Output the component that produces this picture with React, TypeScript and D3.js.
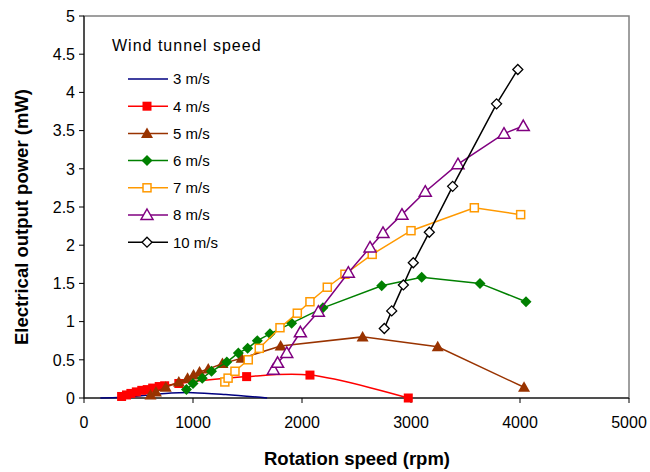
import React from "react";
import * as d3 from "d3";

const rpm3 = [150, 350, 600, 800, 1000, 1300, 1680];
const mw3 = [0, 0.01, 0.04, 0.065, 0.07, 0.045, 0];

const rpm4 = [345, 390, 430, 480, 530, 580, 630, 690, 740, 870, 1492, 2073, 2975];
const mw4 = [0.02, 0.04, 0.06, 0.08, 0.1, 0.11, 0.13, 0.15, 0.16, 0.19, 0.28, 0.3, 0.0];

const rpm5 = [610, 660, 750, 870, 950, 1005, 1060, 1140, 1270, 1446, 1804, 2556, 3245, 4037];
const mw5 = [0.04, 0.08, 0.14, 0.21, 0.26, 0.3, 0.34, 0.38, 0.45, 0.52, 0.68, 0.8, 0.67, 0.14];

const rpm6 = [940, 1000, 1085, 1170, 1310, 1416, 1501, 1590, 1706, 1905, 2192, 2731, 3098, 3633, 4055];
const mw6 = [0.11, 0.19, 0.26, 0.35, 0.47, 0.59, 0.65, 0.75, 0.84, 0.98, 1.18, 1.47, 1.58, 1.5, 1.26];

const rpm7 = [1292, 1322, 1385, 1507, 1608, 1798, 1957, 2073, 2232, 2394, 2644, 3000, 3581, 4006];
const mw7 = [0.21, 0.26, 0.35, 0.5, 0.65, 0.92, 1.11, 1.26, 1.45, 1.62, 1.88, 2.19, 2.49, 2.4];

const rpm8 = [1737, 1776, 1860, 1985, 2150, 2425, 2624, 2743, 2917, 3131, 3431, 3853, 4030];
const mw8 = [0.37, 0.46, 0.59, 0.86, 1.13, 1.64, 1.97, 2.16, 2.4, 2.7, 3.06, 3.46, 3.56];

const rpm10 = [2755, 2823, 2930, 3021, 3168, 3382, 3785, 3980];
const mw10 = [0.91, 1.14, 1.48, 1.77, 2.17, 2.77, 3.85, 4.3];

const seriesNames = ["3 m/s", "4 m/s", "5 m/s", "6 m/s", "7 m/s", "8 m/s", "10 m/s"];
const xTicks = [0, 1000, 2000, 3000, 4000, 5000];
const yTicks = [0, 0.5, 1, 1.5, 2, 2.5, 3, 3.5, 4, 4.5, 5];
const yTickLabels = ["0", "0.5", "1", "1.5", "2", "2.5", "3", "3.5", "4", "4.5", "5"];

type Marker = "none" | "squareF" | "triF" | "diaF" | "squareO" | "triO" | "diaO";

const series = [
  { name: seriesNames[0], x: rpm3, y: mw3, color: "#000080", marker: "none" as Marker, smooth: true },
  { name: seriesNames[1], x: rpm4, y: mw4, color: "#FF0000", marker: "squareF" as Marker, smooth: true },
  { name: seriesNames[2], x: rpm5, y: mw5, color: "#993300", marker: "triF" as Marker, smooth: false },
  { name: seriesNames[3], x: rpm6, y: mw6, color: "#008000", marker: "diaF" as Marker, smooth: false },
  { name: seriesNames[4], x: rpm7, y: mw7, color: "#FF9900", marker: "squareO" as Marker, smooth: false },
  { name: seriesNames[5], x: rpm8, y: mw8, color: "#800080", marker: "triO" as Marker, smooth: false },
  { name: seriesNames[6], x: rpm10, y: mw10, color: "#000000", marker: "diaO" as Marker, smooth: false },
];

const FONT = "'Liberation Sans', Arial, Helvetica, sans-serif";

function MarkerShape({ type, cx, cy, color }: { type: Marker; cx: number; cy: number; color: string }) {
  switch (type) {
    case "squareF":
      return <rect x={cx - 4.5} y={cy - 4.5} width={9} height={9} fill={color} />;
    case "squareO":
      return <rect x={cx - 4} y={cy - 4} width={8} height={8} fill="#fff" stroke={color} strokeWidth={1.5} />;
    case "triF":
      return <path d={`M${cx},${cy - 6}L${cx + 6},${cy + 4.5}L${cx - 6},${cy + 4.5}Z`} fill={color} />;
    case "triO":
      return (
        <path
          d={`M${cx},${cy - 6}L${cx + 6},${cy + 4.5}L${cx - 6},${cy + 4.5}Z`}
          fill="#fff"
          stroke={color}
          strokeWidth={1.5}
        />
      );
    case "diaF":
      return <path d={`M${cx},${cy - 5.5}L${cx + 5.5},${cy}L${cx},${cy + 5.5}L${cx - 5.5},${cy}Z`} fill={color} />;
    case "diaO":
      return (
        <path
          d={`M${cx},${cy - 5}L${cx + 5},${cy}L${cx},${cy + 5}L${cx - 5},${cy}Z`}
          fill="#fff"
          stroke={color}
          strokeWidth={1.3}
        />
      );
    default:
      return null;
  }
}

export default function App() {
  const W = 650;
  const H = 472;
  const x = d3.scaleLinear().domain([0, 5000]).range([84, 629]);
  const y = d3.scaleLinear().domain([0, 5]).range([398, 16]);

  const legendX = 128;
  const legendY0 = 79;
  const legendStep = 27.2;

  return (
    <div style={{ position: "absolute", left: 0, top: 0 }}>
      <svg width={W} height={H} style={{ display: "block", background: "#fff" }} fontFamily={FONT}>
        <rect x={0} y={0} width={W} height={H} fill="#fff" />
        {/* plot frame */}
        <rect x={x(0)} y={y(5)} width={x(5000) - x(0)} height={y(0) - y(5)} fill="none" stroke="#808080" strokeWidth={1.5} />
        {/* axes */}
        <line x1={x(0)} x2={x(0)} y1={y(5)} y2={y(0)} stroke="#000" strokeWidth={1} />
        <line x1={x(0)} x2={x(5000)} y1={y(0)} y2={y(0)} stroke="#000" strokeWidth={1} />
        {yTicks.map((t, i) => (
          <g key={"y" + i}>
            <line x1={x(0) - 5} x2={x(0)} y1={y(t)} y2={y(t)} stroke="#000" strokeWidth={1} />
            <text x={x(0) - 9} y={y(t)} dy="0.36em" textAnchor="end" fontSize={16}>
              {yTickLabels[i]}
            </text>
          </g>
        ))}
        {xTicks.map((t, i) => (
          <g key={"x" + i}>
            <line x1={x(t)} x2={x(t)} y1={y(0)} y2={y(0) + 5} stroke="#000" strokeWidth={1} />
            <text x={x(t)} y={y(0) + 30} textAnchor="middle" fontSize={16}>
              {String(t)}
            </text>
          </g>
        ))}
        {/* axis titles */}
        <text x={357} y={465} textAnchor="middle" fontSize={18.5} fontWeight="bold">
          Rotation speed (rpm)
        </text>
        <text
          transform={`translate(28,217) rotate(-90)`}
          textAnchor="middle"
          fontSize={18.5}
          fontWeight="bold"
        >
          Electrical output power (mW)
        </text>

        {/* series */}
        {series.map((s, si) => {
          const pts: [number, number][] = s.x.map((v, i) => [x(v), y(s.y[i])]);
          const gen = d3.line().curve(s.smooth ? d3.curveCatmullRom.alpha(0.5) : d3.curveLinear);
          return (
            <g key={"s" + si}>
              <path d={gen(pts) || ""} fill="none" stroke={s.color} strokeWidth={1.5} />
              {pts.map((p, i) => (
                <MarkerShape key={i} type={s.marker} cx={p[0]} cy={p[1]} color={s.color} />
              ))}
            </g>
          );
        })}

        {/* legend */}
        <text x={112} y={51} fontSize={16} letterSpacing={1}>
          Wind tunnel speed
        </text>
        {series.map((s, i) => {
          const ly = legendY0 + i * legendStep;
          return (
            <g key={"l" + i}>
              <line x1={legendX} x2={legendX + 40} y1={ly} y2={ly} stroke={s.color} strokeWidth={1.5} />
              <MarkerShape type={s.marker} cx={legendX + 19} cy={ly} color={s.color} />
              <text x={173} y={ly} dy="0.36em" fontSize={15}>
                {s.name}
              </text>
            </g>
          );
        })}
      </svg>
    </div>
  );
}
